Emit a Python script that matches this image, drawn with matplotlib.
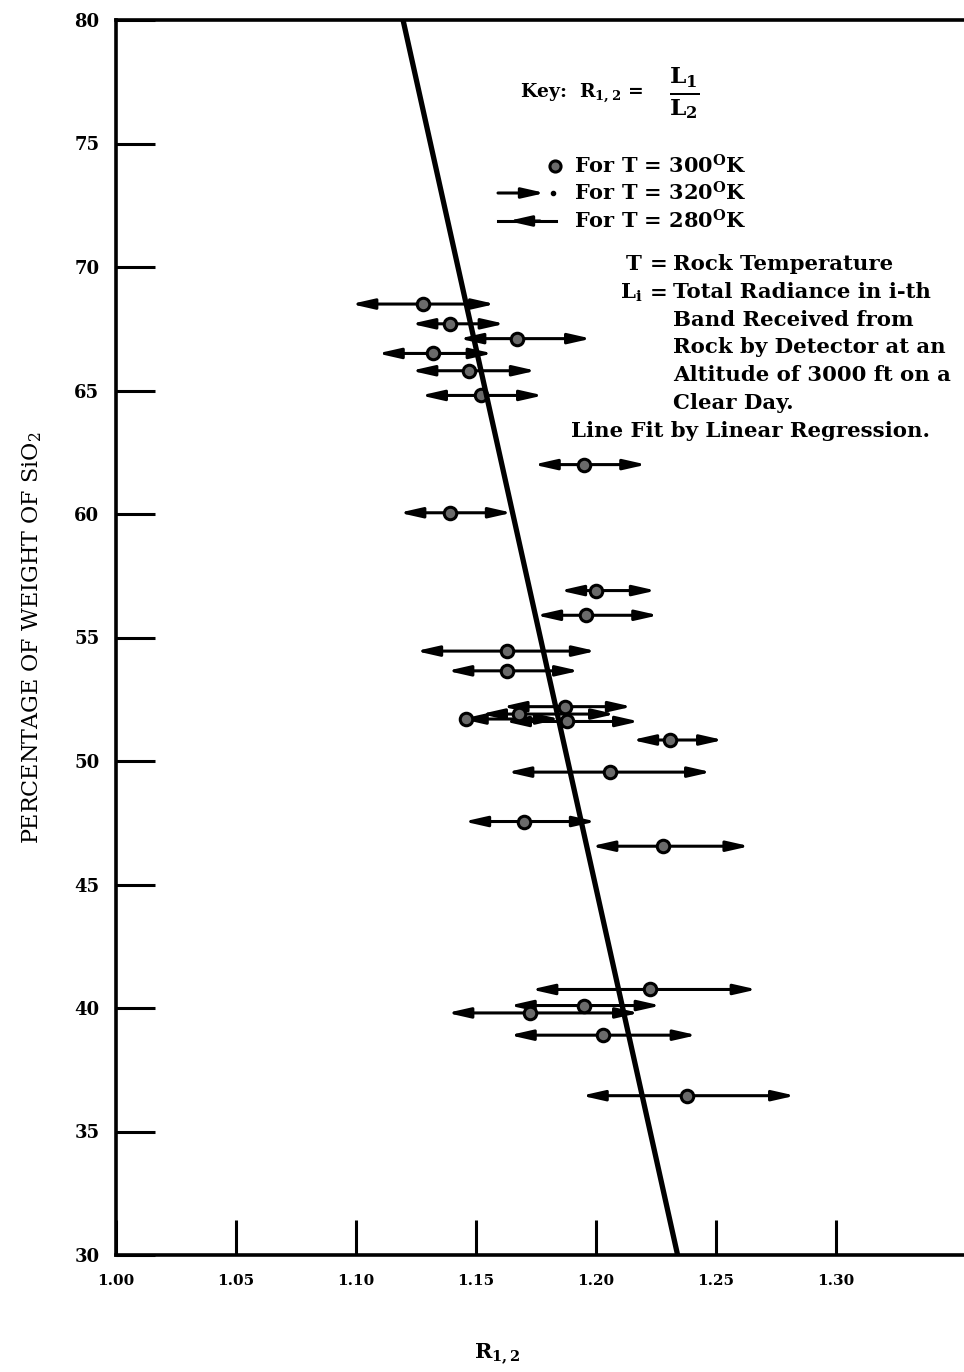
import numpy as np
import matplotlib
matplotlib.use("Agg")
import matplotlib.pyplot as plt

plt.rcParams['font.family'] = ['DejaVu Serif']
plt.rcParams['mathtext.fontset'] = 'dejavuserif'

# SiO2 weight percentage for each rock sample
sio2 = [68.5, 67.7, 67.1, 66.5, 65.8, 64.8, 62.0, 60.05, 56.9, 55.9,
        54.45, 53.65, 52.2, 51.9, 51.6, 51.7, 50.85, 49.55, 47.55, 46.55,
        40.75, 40.1, 39.8, 38.9, 36.45]
# band ratio R_1,2 at rock temperature 300 K
r_300 = [1.128, 1.139, 1.167, 1.132, 1.147, 1.152, 1.195, 1.139, 1.200, 1.196,
         1.163, 1.163, 1.187, 1.168, 1.188, 1.146, 1.231, 1.206, 1.170, 1.228,
         1.2225, 1.195, 1.1725, 1.203, 1.238]
# band ratio at 280 K (left arrow) and 320 K (right arrow)
r_280 = [1.098, 1.123, 1.143, 1.109, 1.123, 1.127, 1.174, 1.118, 1.185, 1.175,
         1.125, 1.138, 1.161, 1.152, 1.162, 1.144, 1.215, 1.163, 1.145, 1.198,
         1.173, 1.164, 1.138, 1.164, 1.194]
r_320 = [1.158, 1.162, 1.198, 1.157, 1.175, 1.178, 1.221, 1.165, 1.225, 1.226,
         1.200, 1.193, 1.215, 1.208, 1.218, 1.185, 1.253, 1.248, 1.200, 1.264,
         1.267, 1.227, 1.218, 1.242, 1.283]

# linear regression line end points
fit_r = [1.1196, 1.234]
fit_sio2 = [80, 30]

x_ticks = [1.00, 1.05, 1.10, 1.15, 1.20, 1.25, 1.30]
y_ticks = [30, 35, 40, 45, 50, 55, 60, 65, 70, 75, 80]

W, H = 964, 1372
fig = plt.figure(figsize=(W / 100, H / 100), dpi=100)
ax = fig.add_axes([116 / W, 1 - 1255 / H, 1 - 116 / W, 1235 / H])


def fx(px):
    return px / W


def fy(py):
    return 1 - py / H


ARROW = '<|-|>,head_length=0.75,head_width=0.17'
HEAD = '-|>,head_length=0.75,head_width=0.17'

ax.set_xlim(1.0, 1.0 + (W - 116) / 2400)
ax.set_ylim(30, 80)

# error arrows spanning 280 K .. 320 K, circle at 300 K
for y, lo, mid, hi in zip(sio2, r_280, r_300, r_320):
    ax.annotate("", xy=(hi, y), xytext=(lo, y), xycoords='data',
                arrowprops=dict(arrowstyle=ARROW, lw=2.2, color='black',
                                shrinkA=0, shrinkB=0, mutation_scale=18))
    ax.plot(mid, y, 'o', ms=9, mfc='#6a6a6a', mec='black', mew=2.2, zorder=4)

ax.plot(fit_r, fit_sio2, color='black', lw=3.8, zorder=5)

ax.spines['right'].set_visible(False)
for side in ['left', 'bottom', 'top']:
    ax.spines[side].set_linewidth(2.6)

ax.set_xticks(x_ticks)
ax.set_xticklabels(['%.2f' % v for v in x_ticks], fontweight='bold', fontsize=11)
ax.set_yticks(y_ticks)
ax.set_yticklabels([str(v) for v in y_ticks], fontweight='bold', fontsize=13)
ax.tick_params(axis='y', direction='in', length=28, width=2.2, pad=12)
ax.tick_params(axis='x', direction='in', length=25, width=2.2, pad=14)

ax.set_ylabel(r'PERCENTAGE OF WEIGHT OF SiO$_2$', fontsize=16, labelpad=22)
ax.set_xlabel(r'$\mathbf{R_{1,2}}$', fontsize=15)
ax.xaxis.set_label_coords((497 - 116) / (W - 116), -0.07)

# key and legend
fig.text(fx(520), fy(93), r'Key:  R$_{\mathbf{1,2}}$ = ', fontsize=13.5,
         fontweight='bold', va='center')
fig.text(fx(684), fy(93), r'$\mathbf{\frac{L_1}{L_2}}$', fontsize=24,
         va='center', ha='center')

leg_font = dict(fontsize=15, fontweight='bold', va='center')
fig.text(fx(574), fy(166), r'For T = 300$^{\mathbf{O}}$K', **leg_font)
fig.text(fx(574), fy(193), r'For T = 320$^{\mathbf{O}}$K', **leg_font)
fig.text(fx(574), fy(221), r'For T = 280$^{\mathbf{O}}$K', **leg_font)

sym_ax = fig.add_axes([0, 0, 1, 1], facecolor='none')
sym_ax.set_xlim(0, W)
sym_ax.set_ylim(H, 0)
sym_ax.axis('off')
sym_ax.plot(555, 166, 'o', ms=8, mfc='#6a6a6a', mec='black', mew=2.2)
sym_ax.annotate("", xy=(545, 193), xytext=(498, 193),
                arrowprops=dict(arrowstyle=HEAD, lw=2.2, color='black',
                                shrinkA=0, shrinkB=0, mutation_scale=18))
sym_ax.plot(553, 193, 'o', ms=3, color='black')
sym_ax.plot([498, 556], [221, 221], color='black', lw=2.2)
sym_ax.annotate("", xy=(508, 221), xytext=(540, 221),
                arrowprops=dict(arrowstyle=HEAD, lw=2.2, color='black',
                                shrinkA=0, shrinkB=0, mutation_scale=18))

note_font = dict(fontsize=15.3, fontweight='bold', va='center')
fig.text(fx(626), fy(264), 'T', **note_font)
fig.text(fx(650), fy(264), '=', **note_font)
fig.text(fx(620), fy(293), r'L$_{\mathbf{i}}$', **note_font)
fig.text(fx(650), fy(293), '=', **note_font)
notes = ['Rock Temperature', 'Total Radiance in i-th', 'Band Received from',
         'Rock by Detector at an', 'Altitude of 3000 ft on a', 'Clear Day.']
for i, line in enumerate(notes):
    fig.text(fx(673), fy(264 + 27.8 * i), line, **note_font)
fig.text(fx(571), fy(431), 'Line Fit by Linear Regression.', **note_font)

fig.savefig('out.png', dpi=100)
